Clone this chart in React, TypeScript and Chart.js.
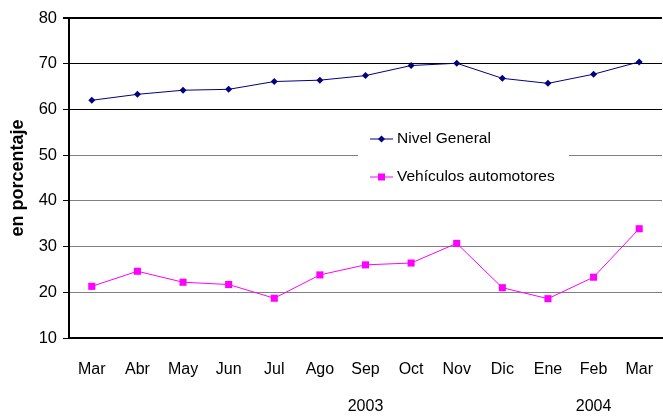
import React, { useEffect, useRef } from "react";
import { Chart, registerables } from "chart.js";

Chart.register(...registerables);

const months = ["Mar", "Abr", "May", "Jun", "Jul", "Ago", "Sep", "Oct", "Nov", "Dic", "Ene", "Feb", "Mar"];
const years = ["", "", "", "", "", "", "2003", "", "", "", "", "2004", ""];
const nivelGeneral = [62.0, 63.3, 64.2, 64.4, 66.1, 66.4, 67.4, 69.6, 70.1, 66.8, 65.7, 67.7, 70.4];
const vehiculos = [21.3, 24.6, 22.2, 21.7, 18.7, 23.8, 26.0, 26.4, 30.7, 21.0, 18.6, 23.3, 33.9];
const seriesNames = ["Nivel General", "Vehículos automotores"];
const yMin = 10;
const yMax = 80;
const yStep = 10;
const yTitle = "en porcentaje";

const FONT = "'Liberation Sans', Arial, sans-serif";

const legendPlugin = {
  id: "insideLegend",
  afterDraw(chart: any) {
    const ctx = chart.ctx;
    ctx.save();
    ctx.fillStyle = "#ffffff";
    ctx.fillRect(358, 121, 211, 74);
    const rows = [139, 177];
    chart.data.datasets.forEach((ds: any, i: number) => {
      const y = rows[i];
      ctx.strokeStyle = ds.borderColor;
      ctx.lineWidth = 1;
      ctx.beginPath();
      ctx.moveTo(370, y);
      ctx.lineTo(393, y);
      ctx.stroke();
      ctx.fillStyle = ds.pointBackgroundColor;
      if (ds.pointStyle === "rectRot") {
        const r = 3.5;
        ctx.beginPath();
        ctx.moveTo(381.5, y - r);
        ctx.lineTo(381.5 + r, y);
        ctx.lineTo(381.5, y + r);
        ctx.lineTo(381.5 - r, y);
        ctx.closePath();
        ctx.fill();
      } else {
        ctx.fillRect(378, y - 3.5, 7, 7);
      }
      ctx.fillStyle = "#000";
      ctx.font = `15.5px ${FONT}`;
      ctx.textBaseline = "middle";
      ctx.textAlign = "left";
      ctx.fillText(ds.label, 397, y);
    });
    ctx.restore();
  },
};

export default function App() {
  const ref = useRef<HTMLCanvasElement | null>(null);
  useEffect(() => {
    if (!ref.current) return;
    Chart.defaults.font.family = FONT;
    Chart.defaults.color = "#000";
    const labels = months.map((m, i) => (years[i] ? [m, years[i]] : m));
    const chart = new Chart(ref.current, {
      type: "line",
      data: {
        labels,
        datasets: [
          {
            label: seriesNames[0],
            data: nivelGeneral,
            borderColor: "#000080",
            backgroundColor: "#000080",
            pointBackgroundColor: "#000080",
            pointBorderColor: "#000080",
            pointStyle: "rectRot",
            pointRadius: 3.5,
            pointBorderWidth: 0,
            borderWidth: 1,
            tension: 0,
          },
          {
            label: seriesNames[1],
            data: vehiculos,
            borderColor: "#ff00ff",
            backgroundColor: "#ff00ff",
            pointBackgroundColor: "#ff00ff",
            pointBorderColor: "#ff00ff",
            pointStyle: "rect",
            pointRadius: 5,
            pointBorderWidth: 0,
            borderWidth: 1,
            tension: 0,
          },
        ],
      },
      options: {
        animation: false,
        responsive: false,
        layout: { padding: { top: 18, right: 0, left: 0, bottom: 0 } },
        plugins: { legend: { display: false }, tooltip: { enabled: false } },
        scales: {
          x: {
            offset: true,
            grid: { display: false, drawTicks: false },
            border: { display: true, color: "#000", width: 2 },
            ticks: {
              color: "#000",
              font: { size: 16, lineHeight: 37 / 16 },
              padding: 13.5,
              maxRotation: 0,
              autoSkip: false,
            },
            afterFit: (s: any) => {
              s.height = 78;
            },
          },
          y: {
            min: yMin,
            max: yMax,
            grid: {
              color: (c: any) => (c.tick && c.tick.value >= 60 ? "#000" : c.tick && c.tick.value === 10 ? "#000" : "#808080"),
              lineWidth: (c: any) => (c.tick && c.tick.value === 80 ? 2 : 1),
              tickColor: "#000",
              tickLength: 6,
              drawTicks: true,
            },
            border: { display: true, color: "#000", width: 2 },
            ticks: {
              stepSize: yStep,
              color: "#000",
              font: { size: 16.5 },
              padding: 6,
            },
            title: {
              display: true,
              text: yTitle,
              color: "#000",
              font: { size: 18, weight: "bold" },
              padding: { top: 7, bottom: 0 },
            },
            afterFit: (s: any) => {
              s.width = 69;
            },
          },
        },
      },
      plugins: [legendPlugin],
    });
    return () => chart.destroy();
  }, []);
  return (
    <div style={{ position: "absolute", left: 0, top: 0, width: 663, height: 416, overflow: "hidden", background: "#fff" }}>
      <canvas ref={ref} width={667} height={416} />
    </div>
  );
}
